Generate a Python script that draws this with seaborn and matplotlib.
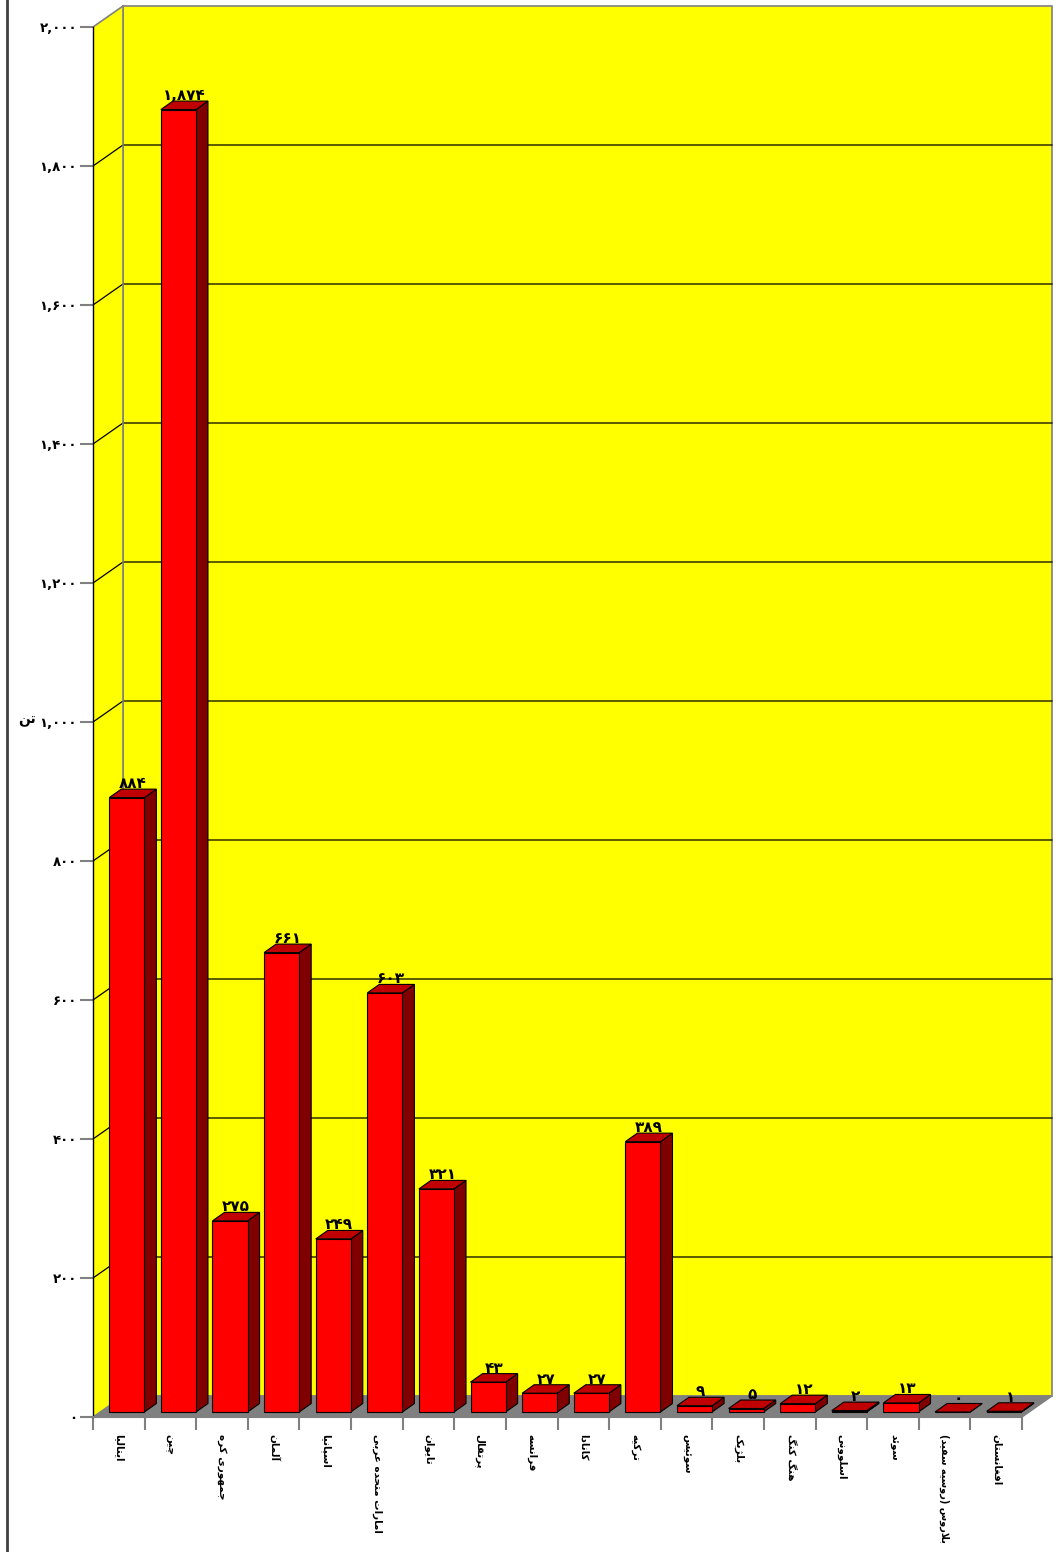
import matplotlib
matplotlib.use('Agg')
import matplotlib.pyplot as plt
import seaborn as sns
import numpy as np
import pandas as pd
from matplotlib.patches import Polygon
from matplotlib.transforms import IdentityTransform, offset_copy

countries = ['ایتالیا', 'چین', 'جمهوری کره', 'آلمان', 'اسپانیا', 'امارات متحده عربی',
             'تایوان', 'پرتقال', 'فرانسه', 'کانادا', 'ترکیه', 'سوئیس', 'بلژیک',
             'هنگ کنگ', 'اسلوونی', 'سوئد', 'بلاروس (روسیه سفید)', 'افغانستان']
tons = [884, 1874, 275, 661, 249, 603, 321, 43, 27, 27, 389, 9, 5, 12, 2, 13, 0, 1]
y_ticks = list(range(0, 2001, 200))
unit_label = 'تن'

# --- minimal arabic/persian shaping (no bidi lib available) ---
FORMS = {
    'ا': (0xFE8D, 0xFE8E, None, None), 'آ': (0xFE81, 0xFE82, None, None),
    'ب': (0xFE8F, 0xFE90, 0xFE91, 0xFE92), 'پ': (0xFB56, 0xFB57, 0xFB58, 0xFB59),
    'ت': (0xFE95, 0xFE96, 0xFE97, 0xFE98), 'ج': (0xFE9D, 0xFE9E, 0xFE9F, 0xFEA0),
    'چ': (0xFB7A, 0xFB7B, 0xFB7C, 0xFB7D), 'ح': (0xFEA1, 0xFEA2, 0xFEA3, 0xFEA4),
    'د': (0xFEA9, 0xFEAA, None, None), 'ر': (0xFEAD, 0xFEAE, None, None),
    'ژ': (0xFB8A, 0xFB8B, None, None), 'و': (0xFEED, 0xFEEE, None, None),
    'س': (0xFEB1, 0xFEB2, 0xFEB3, 0xFEB4), 'ع': (0xFEC9, 0xFECA, 0xFECB, 0xFECC),
    'غ': (0xFECD, 0xFECE, 0xFECF, 0xFED0), 'ف': (0xFED1, 0xFED2, 0xFED3, 0xFED4),
    'ق': (0xFED5, 0xFED6, 0xFED7, 0xFED8), 'ک': (0xFB8E, 0xFB8F, 0xFB90, 0xFB91),
    'گ': (0xFB92, 0xFB93, 0xFB94, 0xFB95), 'ل': (0xFEDD, 0xFEDE, 0xFEDF, 0xFEE0),
    'م': (0xFEE1, 0xFEE2, 0xFEE3, 0xFEE4), 'ن': (0xFEE5, 0xFEE6, 0xFEE7, 0xFEE8),
    'ه': (0xFEE9, 0xFEEA, 0xFEEB, 0xFEEC), 'ی': (0xFBFC, 0xFBFD, 0xFBFE, 0xFBFF),
    'ئ': (0xFE89, 0xFE8A, 0xFE8B, 0xFE8C),
}
LAM_ALEF = {'ا': (0xFEFB, 0xFEFC), 'آ': (0xFEF5, 0xFEF6)}


def shape(text):
    out = []
    i = 0
    n = len(text)
    while i < n:
        c = text[i]
        if c not in FORMS:
            out.append(c)
            i += 1
            continue
        prev = text[i - 1] if i > 0 else ''
        joins_prev = prev in FORMS and FORMS[prev][2] is not None
        if c == 'ل' and i + 1 < n and text[i + 1] in LAM_ALEF:
            iso, fin = LAM_ALEF[text[i + 1]]
            out.append(chr(fin if joins_prev else iso))
            i += 2
            continue
        nxt = text[i + 1] if i + 1 < n else ''
        joins_next = FORMS[c][2] is not None and nxt in FORMS
        iso, fin, ini, med = FORMS[c]
        if joins_prev and joins_next:
            g = med
        elif joins_prev:
            g = fin
        elif joins_next:
            g = ini
        else:
            g = iso
        out.append(chr(g))
        i += 1
    vis = ''.join(reversed(out))
    return vis.translate(str.maketrans('()', ')('))


def fa_num(v):
    return f'{v:,}'.translate(str.maketrans('0123456789', '۰۱۲۳۴۵۶۷۸۹'))


plt.rcParams['font.family'] = ['DejaVu Sans']

W, H = 1059, 1552
fig = plt.figure(figsize=(W / 100, H / 100), dpi=100)
ax = fig.add_axes([93 / W, (H - 1417) / H, (1022 - 93) / W, (1417 - 27) / H])
ax.patch.set_visible(False)

df = pd.DataFrame({'country': [shape(c) for c in countries], 'tons': tons})
sns.barplot(data=df, x='country', y='tons', color='#FF0000', saturation=1,
            width=0.68, edgecolor='black', linewidth=0.8, ax=ax, zorder=5)
bars = list(ax.patches)

ax.set_xlim(-0.5, len(countries) - 0.5)
ax.set_ylim(0, 2000)

DEPTH = np.array([30.0, 21.0])
SHIFT = np.array([8.0, 5.0])
BDEPTH = np.array([12.0, 8.5])


def px(x, y):
    return np.asarray(ax.transData.transform((x, y)), dtype=float)


def poly(pts, fc, ec='none', lw=0.8, z=1):
    p = Polygon(np.array(pts), closed=True, facecolor=fc, edgecolor=ec, linewidth=lw,
                transform=IdentityTransform(), clip_on=False, zorder=z)
    ax.add_patch(p)


x_lo, x_hi = ax.get_xlim()
a0, a1 = px(x_lo, 0), px(x_hi, 0)
t0, t1 = px(x_lo, 2000), px(x_hi, 2000)

# walls and floor
poly([a0 + DEPTH, a1 + DEPTH, t1 + DEPTH, t0 + DEPTH], '#FFFF00', '#808080', 1.2, 0.5)
poly([a0, a0 + DEPTH, t0 + DEPTH, t0], '#FFFF00', 'none', 0, 0.6)
poly([a0, a1, a1 + DEPTH, a0 + DEPTH], '#808080', '#808080', 1.0, 0.7)
for v in y_ticks[1:-1]:
    l0, l1 = px(x_lo, v), px(x_hi, v)
    ax.add_line(plt.Line2D([l0[0], (l0 + DEPTH)[0], (l1 + DEPTH)[0]],
                           [l0[1], (l0 + DEPTH)[1], (l1 + DEPTH)[1]],
                           color='black', lw=0.9, transform=IdentityTransform(),
                           clip_on=False, zorder=0.8))
ax.add_line(plt.Line2D([t0[0], (t0 + DEPTH)[0]], [t0[1], (t0 + DEPTH)[1]],
                       color='#808080', lw=1.2, transform=IdentityTransform(),
                       clip_on=False, zorder=0.8))
ax.add_line(plt.Line2D([(a0 + DEPTH)[0], (t0 + DEPTH)[0]], [(a0 + DEPTH)[1], (t0 + DEPTH)[1]],
                       color='#808080', lw=1.2, transform=IdentityTransform(),
                       clip_on=False, zorder=0.8))

# 3d bars: shift front faces, add side and top faces
shift_tr = offset_copy(ax.transData, fig=fig, x=SHIFT[0], y=SHIFT[1], units='dots')
for bar, val in zip(bars, tons):
    bar.set_transform(shift_tr)
    x0 = bar.get_x()
    x1 = x0 + bar.get_width()
    h = bar.get_height()
    fl, fr = px(x0, h) + SHIFT, px(x1, h) + SHIFT
    br = px(x1, 0) + SHIFT
    poly([br, br + BDEPTH, fr + BDEPTH, fr], '#800000', 'black', 0.8, 4)
    poly([fl, fr, fr + BDEPTH, fl + BDEPTH], '#C00000', 'black', 0.8, 4)
    cx = (fl[0] + fr[0]) / 2 + BDEPTH[0] / 2
    ax.text(cx, fr[1] + BDEPTH[1] - 2, fa_num(val), ha='center', va='bottom',
            fontsize=11, fontweight='bold', transform=IdentityTransform(), zorder=6)

# axes styling
for s in ['top', 'right']:
    ax.spines[s].set_visible(False)
ax.spines['left'].set_color('black')
ax.spines['left'].set_linewidth(1.0)
ax.spines['left'].set_zorder(2)
ax.spines['bottom'].set_color('#808080')
ax.spines['bottom'].set_linewidth(1.5)

ax.set_yticks(y_ticks)
ax.set_yticklabels([fa_num(v) for v in y_ticks], fontsize=9.5, fontweight='bold')
ax.tick_params(axis='y', length=9.4, width=1.5, color='#808080', pad=2)

ax.set_xticks(np.arange(x_lo, x_hi + 0.01, 1), minor=True)
ax.tick_params(axis='x', which='minor', length=9.4, width=1.5, color='#808080')
ax.tick_params(axis='x', which='major', length=0, pad=12)
for lab in ax.get_xticklabels():
    lab.set_rotation(-90)
    lab.set_ha('center')
    lab.set_va('top')
    lab.set_fontsize(7.5 if len(lab.get_text()) < 18 else 7)
    lab.set_fontweight('bold')
ax.set_xlabel('')
ax.set_ylabel('')

fig.text(36 / W, 1 - 720 / H, shape(unit_label), fontsize=10, fontweight='bold',
         va='center', ha='right')
fig.add_artist(plt.Line2D([7 / W, 7 / W], [0, 1], color='#404040', lw=2))

fig.savefig('out.png', dpi=100)
